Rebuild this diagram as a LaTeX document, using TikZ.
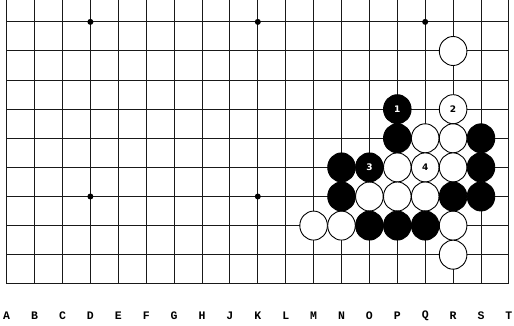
\documentclass[tikz,border=0pt]{standalone}
\usepackage{fontspec}
\newfontfamily\coordfont{Liberation Mono}
\newfontfamily\numfont{DejaVu Sans}
\usetikzlibrary{shapes.geometric}
\tikzset{
  gridline/.style={draw=black!90, line width=1pt},
  starpt/.style={circle, fill=black, inner sep=0pt, minimum size=6pt},
  stone/.style={ellipse, draw=black, line width=0.9pt, inner sep=0pt, minimum width=27.6pt, minimum height=29pt, font=\numfont\bfseries\fontsize{9}{9}\selectfont},
  wstone/.style={stone, fill=white, text=black},
  bstone/.style={stone, fill=black, text=white},
  coordlbl/.style={font=\coordfont\bfseries\fontsize{11.5}{11.5}\selectfont, inner sep=0pt}
}
\begin{document}
\begin{tikzpicture}
\useasboundingbox (0,0) rectangle (514pt,326pt);
\fill[white] (0,0) rectangle (514pt,326pt);
\begin{scope}[shift={(6.7pt,42.2pt)}, x=27.9pt, y=29.1pt]
  % grid
  \foreach \i in {0,...,18} \draw[gridline] (\i,0) -- (\i,9.753);
  \foreach \j in {0,...,9} \draw[gridline] (0,\j) -- (18,\j);
  % star points
  \foreach \i/\j [count=\k] in {3/9,9/9,15/9,3/3,9/3,15/3}
    \node[starpt] (star\k) at (\i,\j) {};
  % column labels
  \foreach \l [count=\k from 0] in {A,B,C,D,E,F,G,H,J,K,L,M,N,O,P,Q,R,S,T}
    \node[coordlbl] (col\l) at (\k,-1.09) {\l};
  % white stones
  \node[wstone] (R9) at (16,8) {};
  \node[wstone] (R7) at (16,6) {2};
  \node[wstone] (Q6) at (15,5) {};
  \node[wstone] (R6) at (16,5) {};
  \node[wstone] (P5) at (14,4) {};
  \node[wstone] (Q5) at (15,4) {4};
  \node[wstone] (R5) at (16,4) {};
  \node[wstone] (O4) at (13,3) {};
  \node[wstone] (P4) at (14,3) {};
  \node[wstone] (Q4) at (15,3) {};
  \node[wstone] (M3) at (11,2) {};
  \node[wstone] (N3) at (12,2) {};
  \node[wstone] (R3) at (16,2) {};
  \node[wstone] (R2) at (16,1) {};
  % black stones
  \node[bstone] (P7) at (14,6) {1};
  \node[bstone] (P6) at (14,5) {};
  \node[bstone] (S6) at (17,5) {};
  \node[bstone] (N5) at (12,4) {};
  \node[bstone] (O5) at (13,4) {3};
  \node[bstone] (S5) at (17,4) {};
  \node[bstone] (N4) at (12,3) {};
  \node[bstone] (R4) at (16,3) {};
  \node[bstone] (S4) at (17,3) {};
  \node[bstone] (O3) at (13,2) {};
  \node[bstone] (P3) at (14,2) {};
  \node[bstone] (Q3) at (15,2) {};
\end{scope}
\end{tikzpicture}
\end{document}
